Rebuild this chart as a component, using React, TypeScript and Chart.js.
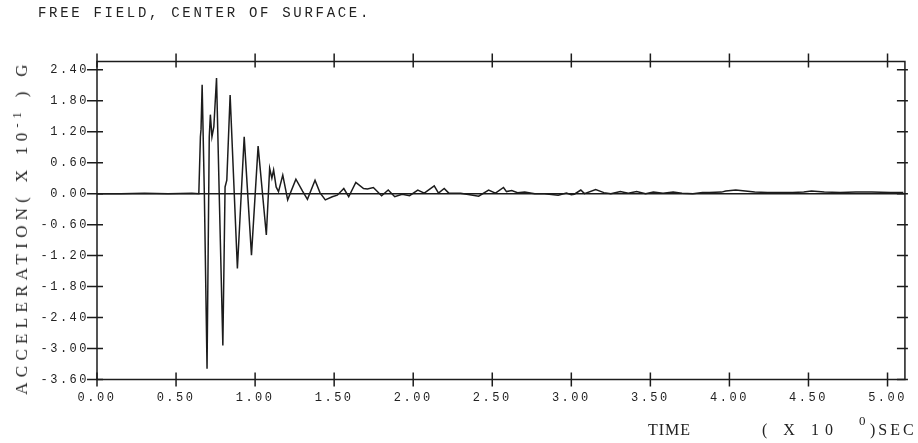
import React, { useEffect, useRef } from "react";
import { Chart, registerables } from "chart.js";

Chart.register(...registerables);

// Free-field acceleration record at the centre of the surface (units of 0.1 G)
const timeSec = [
  0.0, 0.15, 0.3, 0.45, 0.6, 0.644, 0.654, 0.658, 0.665, 0.679, 0.696, 0.71, 0.717, 0.727, 0.739, 0.756,
  0.773, 0.796, 0.81, 0.821, 0.842, 0.888, 0.931, 0.977, 1.019, 1.071, 1.092, 1.106, 1.117, 1.133,
  1.148, 1.175, 1.206, 1.258, 1.3, 1.331, 1.379, 1.41, 1.444, 1.488, 1.52, 1.561, 1.592, 1.637, 1.686,
  1.71, 1.748, 1.8, 1.842, 1.883, 1.93, 1.977, 2.029, 2.07, 2.133, 2.16, 2.196, 2.225, 2.3, 2.414,
  2.477, 2.52, 2.571, 2.59, 2.623, 2.66, 2.705, 2.769, 2.831, 2.917, 2.969, 3.0, 3.019, 3.06, 3.083,
  3.154, 3.206, 3.25, 3.31, 3.36, 3.413, 3.47, 3.519, 3.58, 3.644, 3.7, 3.769, 3.83, 3.873, 3.95,
  3.977, 4.04, 4.1, 4.16, 4.24, 4.29, 4.4, 4.47, 4.519, 4.6, 4.7, 4.8, 4.9, 5.019, 5.1,
];
const accel = [
  0.0, 0.0, 0.01, 0.0, 0.01, 0.0, 1.1, 1.25, 2.11, 0.0, -3.39, 1.1, 1.53, 1.1, 1.3, 2.24,
  0.0, -2.94, 0.13, 0.26, 1.91, -1.45, 1.1, -1.19, 0.92, -0.8, 0.49, 0.3, 0.46, 0.13,
  0.04, 0.36, -0.12, 0.28, 0.05, -0.11, 0.26, 0.02, -0.12, -0.06, -0.03, 0.1, -0.06, 0.22, 0.1,
  0.09, 0.12, -0.04, 0.07, -0.06, -0.01, -0.04, 0.07, 0.01, 0.15, 0.01, 0.1, 0.01, 0.01, -0.05,
  0.07, 0.01, 0.12, 0.04, 0.06, 0.02, 0.03, 0.0, 0.0, -0.03, 0.01, -0.02, -0.01, 0.07, 0.0,
  0.08, 0.02, 0.0, 0.04, 0.01, 0.04, 0.0, 0.03, 0.01, 0.03, 0.01, 0.0, 0.02, 0.02, 0.03,
  0.05, 0.07, 0.05, 0.03, 0.02, 0.02, 0.02, 0.03, 0.05, 0.03, 0.02, 0.03, 0.03, 0.02, 0.02,
];

const xTickValues = [0.0, 0.5, 1.0, 1.5, 2.0, 2.5, 3.0, 3.5, 4.0, 4.5, 5.0];
const yTickValues = [-3.6, -3.0, -2.4, -1.8, -1.2, -0.6, 0.0, 0.6, 1.2, 1.8, 2.4];

const INK = "#1c1c1c";
const TICK_FONT = { family: "'Liberation Mono', 'DejaVu Sans Mono', monospace", size: 12 };

// Plotter-style frame: box border with ticks that cross every side.
const framePlugin = {
  id: "plotterFrame",
  beforeLayout(chart: any) {
    chart.ctx.letterSpacing = "2.5px";
  },
  beforeDraw(chart: any) {
    chart.ctx.letterSpacing = "2.5px";
  },
  afterDraw(chart: any) {
    const { ctx, chartArea: a, scales } = chart;
    const xs = scales.x;
    const ys = scales.y;
    ctx.save();
    ctx.strokeStyle = INK;
    ctx.lineWidth = 1.5;
    ctx.strokeRect(a.left, a.top, a.right - a.left, a.bottom - a.top);
    ctx.beginPath();
    xs.ticks.forEach((t: any) => {
      const px = xs.getPixelForValue(t.value);
      ctx.moveTo(px, a.top - 8);
      ctx.lineTo(px, a.top + 6);
      ctx.moveTo(px, a.bottom - 7);
      ctx.lineTo(px, a.bottom + 7);
    });
    ys.ticks.forEach((t: any) => {
      const py = ys.getPixelForValue(t.value);
      ctx.moveTo(a.left - 10, py);
      ctx.lineTo(a.left + 6, py);
      ctx.moveTo(a.right - 8, py);
      ctx.lineTo(a.right + 3, py);
    });
    ctx.stroke();
    ctx.restore();
  },
};

export default function App() {
  const canvasRef = useRef<HTMLCanvasElement | null>(null);

  useEffect(() => {
    const canvas = canvasRef.current;
    if (!canvas) return;
    const points = timeSec.map((t, i) => ({ x: t, y: accel[i] }));
    const chart = new Chart(canvas, {
      type: "line",
      data: {
        datasets: [
          {
            data: points,
            borderColor: INK,
            borderWidth: 1.5,
            pointRadius: 0,
            tension: 0,
            fill: false,
          },
        ],
      },
      options: {
        animation: false,
        responsive: false,
        maintainAspectRatio: false,
        layout: { padding: { left: 0, top: 61.5, right: 3, bottom: 0 } },
        plugins: { legend: { display: false }, tooltip: { enabled: false } },
        scales: {
          x: {
            type: "linear",
            min: 0,
            max: 5.11,
            afterBuildTicks: (s: any) => {
              s.ticks = xTickValues.map((v) => ({ value: v }));
            },
            afterFit: (s: any) => {
              s.height = 63.5;
            },
            ticks: {
              callback: (v: any) => Number(v).toFixed(2),
              font: TICK_FONT,
              color: "#222",
              padding: 11,
              maxRotation: 0,
              autoSkip: false,
            },
            grid: { display: false, drawTicks: false },
            border: { display: false },
          },
          y: {
            type: "linear",
            min: -3.6,
            max: 2.56,
            afterBuildTicks: (s: any) => {
              s.ticks = yTickValues.map((v) => ({ value: v }));
            },
            afterFit: (s: any) => {
              s.width = 97;
            },
            ticks: {
              callback: (v: any) => Number(v).toFixed(2),
              font: TICK_FONT,
              color: "#222",
              padding: 8,
              autoSkip: false,
            },
            grid: {
              drawTicks: false,
              lineWidth: 1.5,
              color: (c: any) => (c.tick && Math.abs(c.tick.value) < 1e-9 ? INK : "rgba(0,0,0,0)"),
            },
            border: { display: false },
          },
        },
      },
      plugins: [framePlugin],
    });
    return () => chart.destroy();
  }, []);

  const serif = "'Liberation Serif', 'DejaVu Serif', serif";
  return (
    <div style={{ position: "fixed", left: 0, top: 0, width: 918, height: 443, background: "#fff", color: "#222" }}>
      <canvas ref={canvasRef} width={918} height={443} style={{ position: "absolute", left: 0, top: 0 }} />
      <div
        style={{
          position: "absolute",
          left: 38,
          top: 5,
          fontFamily: "'Liberation Mono', monospace",
          fontSize: 14,
          lineHeight: "17px",
          letterSpacing: "2.7px",
          whiteSpace: "nowrap",
        }}
      >
        FREE FIELD, CENTER OF SURFACE.
      </div>
      <div
        style={{
          position: "absolute",
          left: 22,
          top: 227,
          transform: "translate(-50%, -50%) rotate(-90deg)",
          fontFamily: serif,
          fontSize: 17,
          lineHeight: "18px",
          letterSpacing: "5.3px",
          whiteSpace: "pre",
        }}
      >
        ACCELERATION( X 10<sup style={{ fontSize: 12, verticalAlign: "6px", lineHeight: 0 }}>-1</sup> ) G
      </div>
      <div style={{ position: "absolute", left: 648, top: 421, fontFamily: serif, fontSize: 16, lineHeight: "18px", letterSpacing: "1px", whiteSpace: "pre" }}>
        TIME
      </div>
      <div style={{ position: "absolute", left: 762, top: 421, fontFamily: serif, fontSize: 16, lineHeight: "18px", letterSpacing: "6px", whiteSpace: "pre" }}>
        ( X 10
      </div>
      <div style={{ position: "absolute", left: 859, top: 414, fontFamily: serif, fontSize: 13, lineHeight: "14px", whiteSpace: "pre" }}>
        0
      </div>
      <div style={{ position: "absolute", left: 870, top: 421, fontFamily: serif, fontSize: 16, lineHeight: "18px", letterSpacing: "3px", whiteSpace: "pre" }}>
        )SEC
      </div>
    </div>
  );
}
